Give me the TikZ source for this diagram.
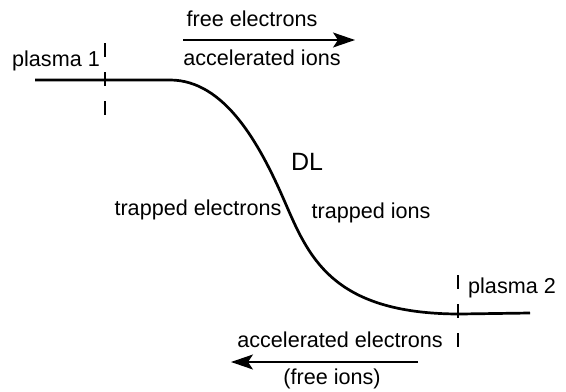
\documentclass[tikz,border=0pt]{standalone}
\usepackage{fontspec}
\setmainfont{Liberation Sans}
\usepackage{tikz}
\usetikzlibrary{arrows.meta,positioning}
\tikzset{
  lbl/.style={inner sep=0pt,font=\fontsize{10.8}{12}\selectfont},
  biglbl/.style={inner sep=0pt,font=\fontsize{12.5}{14}\selectfont},
  potential/.style={draw=black,line width=1.35pt},
  border/.style={draw=black,line width=1pt,dash pattern=on 7pt off 7.5pt},
  flowarrow/.style={-{Stealth[length=11pt,width=7.5pt,inset=2.5pt]},line width=0.65pt}
}
\begin{document}
\begin{tikzpicture}[x=0.5pt,y=-0.5pt]
  \useasboundingbox (0,0) rectangle (566,391);
  % potential profile
  \draw[potential] (35,80) -- (170,80)
    .. controls (225,80) and (260,145) .. (284,200)
    .. controls (308,255) and (330,314) .. (460,314) -- (530,313);
  % plasma boundaries
  \draw[border] (105,43) -- (105,117);
  \draw[border] (458,275) -- (458,353);
  % labels
  \node[lbl] (p1) at (56,61) {plasma 1};
  \node[lbl] (p2) at (512,288) {plasma 2};
  \node[lbl] (fe) at (252,19) {free electrons};
  \node[lbl] (ai) at (262,58) {accelerated ions};
  \node[biglbl] (dl) at (307,162) {DL};
  \node[lbl] (te) at (198,210) {trapped electrons};
  \node[lbl] (ti) at (371,213) {trapped ions};
  \node[lbl] (ae) at (340,340) {accelerated electrons};
  \node[lbl] (fi) at (332,379) {(free ions)};
  % flow arrows
  \coordinate (r0) at (183,40);
  \coordinate (r1) at (355,40);
  \coordinate (l0) at (418,362);
  \coordinate (l1) at (231,362);
  \draw[flowarrow] (r0) -- (r1);
  \draw[flowarrow] (l0) -- (l1);
\end{tikzpicture}
\end{document}
